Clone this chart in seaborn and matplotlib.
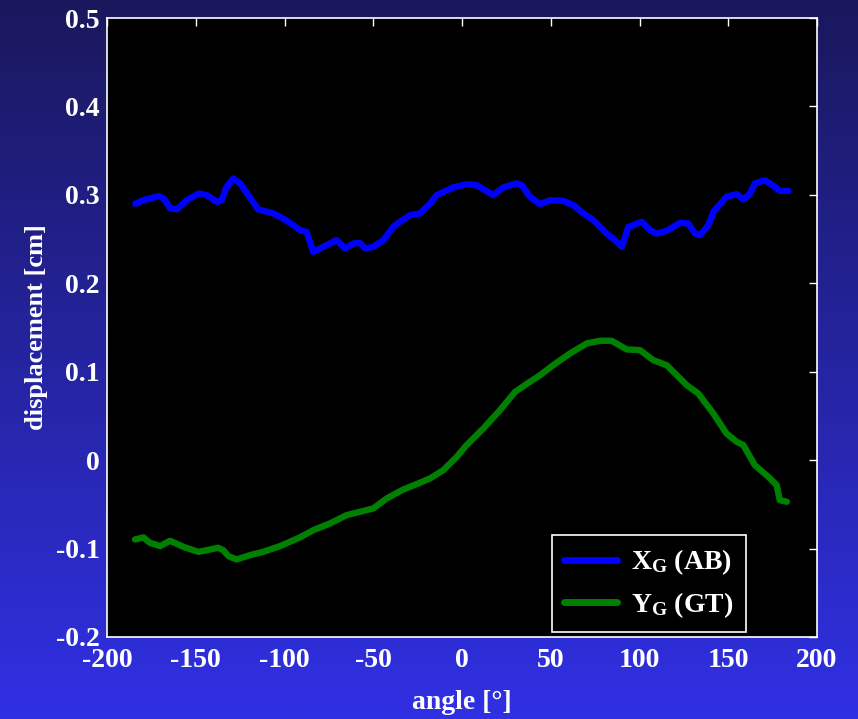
import numpy as np
import pandas as pd
import matplotlib
matplotlib.use("Agg")
import matplotlib.pyplot as plt
import seaborn as sns

# ---- data ----
xg_angle = [-184, -179.5, -171, -168, -164.5, -160.7, -155, -148.5, -143.8, -138, -135.4,
            -132.6, -128.8, -125, -120.4, -114.8, -106.3, -100.7, -95, -91.3, -87.5, -83.8,
            -80, -70.6, -66, -61.2, -57.5, -54.6, -50, -44.3, -38.7, -35, -29.3, -23.7, -18,
            -14.3, -4.9, 2.6, 8.3, 17.6, 23.3, 30.8, 33.6, 38.3, 44, 49.6, 57, 62.7, 68.3,
            74, 81.5, 86.2, 90, 93.7, 96.5, 101.2, 106, 109.7, 115.3, 122.8, 127.5, 131.3,
            134, 138.8, 141.6, 149, 154.8, 158.5, 162.3, 165, 170.7, 176.3, 179, 183.9]
xg_value = [0.290, 0.294, 0.2985, 0.296, 0.285, 0.2835, 0.294, 0.3015, 0.2997, 0.292, 0.294,
            0.309, 0.3185, 0.313, 0.2997, 0.2835, 0.279, 0.2733, 0.2657, 0.260, 0.258, 0.2355,
            0.2394, 0.2488, 0.2394, 0.245, 0.2457, 0.2394, 0.2412, 0.2488, 0.2638, 0.2695,
            0.277, 0.279, 0.290, 0.2997, 0.3084, 0.312, 0.311, 0.2997, 0.3084, 0.313, 0.311,
            0.2978, 0.2895, 0.294, 0.2933, 0.2884, 0.279, 0.2714, 0.2563, 0.2488, 0.2412,
            0.2638, 0.2657, 0.2695, 0.260, 0.2563, 0.2593, 0.2684, 0.2676, 0.2563, 0.2544,
            0.2657, 0.2808, 0.2978, 0.3008, 0.2948, 0.3015, 0.313, 0.3166, 0.309, 0.3045, 0.3045]

yg_angle = [-184.2, -179.5, -175.8, -170, -164.5, -157, -148.5, -143.8, -137.3, -134.5,
            -131.6, -127, -119.4, -112, -102.5, -91.3, -83.8, -74.4, -65, -57.5, -50, -42.4,
            -33, -25.5, -18, -10.5, -3, 2.6, 12, 21.4, 29.9, 38.3, 44, 51.4, 60.8, 70.3,
            77.7, 84.3, 92.8, 100.3, 107.8, 115.3, 126.6, 133.1, 141.6, 149, 154.8, 158.5,
            165, 172.6, 177.3, 179, 183]
yg_value = [-0.0897, -0.0874, -0.0935, -0.0972, -0.0912, -0.098, -0.1037, -0.1018, -0.0991,
            -0.1018, -0.1086, -0.1123, -0.1074, -0.1037, -0.0972, -0.0874, -0.0792, -0.0716,
            -0.0622, -0.0584, -0.0546, -0.0433, -0.0331, -0.0271, -0.0207, -0.0113, 0.0037,
            0.017, 0.0358, 0.0565, 0.0772, 0.0886, 0.0961, 0.1074, 0.1206, 0.132, 0.135,
            0.135, 0.1252, 0.1244, 0.113, 0.1074, 0.0848, 0.0754, 0.0528, 0.0302, 0.0207,
            0.017, -0.0057, -0.0189, -0.0283, -0.0452, -0.0471]

series_names = [r"X$_{\mathbf{G}}$ (AB)", r"Y$_{\mathbf{G}}$ (GT)"]
series_colors = ["#0000ff", "#008000"]

x_ticks = [-200, -150, -100, -50, 0, 50, 100, 150, 200]
x_ticklabels = ["-200", "-150", "-100", "-50", "0", "50", "100", "150", "200"]
y_ticks = [-0.2, -0.1, 0, 0.1, 0.2, 0.3, 0.4, 0.5]
y_ticklabels = ["-0.2", "-0.1", "0", "0.1", "0.2", "0.3", "0.4", "0.5"]

df = pd.concat([
    pd.DataFrame({"angle": xg_angle, "disp": xg_value, "series": series_names[0]}),
    pd.DataFrame({"angle": yg_angle, "disp": yg_value, "series": series_names[1]}),
], ignore_index=True)

sns.set_style("dark")
plt.rcParams["font.family"] = ["Liberation Serif", "DejaVu Serif"]
plt.rcParams["font.weight"] = "bold"
plt.rcParams["mathtext.fontset"] = "custom"
plt.rcParams["mathtext.rm"] = "Liberation Serif:bold"
plt.rcParams["mathtext.bf"] = "Liberation Serif:bold"
plt.rcParams["mathtext.it"] = "Liberation Serif:bold"
plt.rcParams["axes.unicode_minus"] = False

fig = plt.figure(figsize=(8.58, 7.19), dpi=100)

# gradient background
bg = fig.add_axes([0, 0, 1, 1], zorder=-10)
top = np.array([26, 24, 92]) / 255.0
bot = np.array([48, 48, 228]) / 255.0
t = np.linspace(0, 1, 256)[:, None]
grad = (top[None, :] * (1 - t) + bot[None, :] * t)[:, None, :]
bg.imshow(grad, aspect="auto", extent=[0, 1, 0, 1])
bg.set_axis_off()

ax = fig.add_axes([107 / 858, 1 - 637 / 719, 710 / 858, 619 / 719])
ax.set_facecolor("black")

sns.lineplot(data=df, x="angle", y="disp", hue="series", palette=series_colors,
             hue_order=series_names, estimator=None, sort=False, linewidth=4.6, ax=ax)

ax.set_xlim(-200, 200)
ax.set_ylim(-0.2, 0.5)
ax.set_xticks(x_ticks)
ax.set_xticklabels(x_ticklabels)
ax.set_yticks(y_ticks)
ax.set_yticklabels(y_ticklabels)
ax.grid(False)
for s in ax.spines.values():
    s.set_visible(True)
    s.set_color("white")
    s.set_linewidth(1.2)
ax.tick_params(axis="both", direction="in", length=6, width=1, colors="white",
               top=True, right=True, labelsize=20)
ax.tick_params(axis="x", pad=8)
ax.tick_params(axis="y", pad=5)
for lbl in ax.get_xticklabels() + ax.get_yticklabels():
    lbl.set_fontweight("bold")
    lbl.set_color("white")

ax.set_xlabel("angle [°]", color="white", fontsize=20, fontweight="bold", labelpad=12)
ax.set_ylabel("displacement [cm]", color="white", fontsize=19, fontweight="bold", labelpad=6)

leg = ax.legend(loc="lower right", bbox_to_anchor=(0.9, 0.008), fontsize=20,
                frameon=True, fancybox=False, framealpha=1, handlelength=1.9,
                handletextpad=0.5, borderpad=0.45, labelspacing=0.45, borderaxespad=0)
leg.get_frame().set_facecolor("black")
leg.get_frame().set_edgecolor("white")
leg.get_frame().set_linewidth(1.2)
for txt in leg.get_texts():
    txt.set_color("white")
    txt.set_fontweight("bold")
for line in leg.get_lines():
    line.set_linewidth(5)

fig.savefig("out.png", dpi=100)
